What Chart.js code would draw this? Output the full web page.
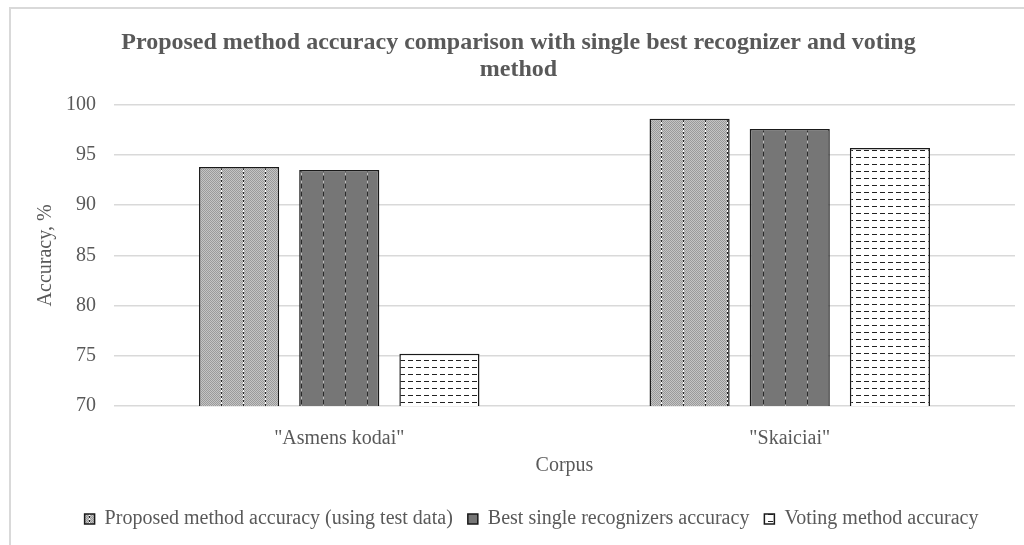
<!DOCTYPE html>
<html>
<head>
<meta charset="utf-8">
<script src="https://cdn.jsdelivr.net/npm/chart.js@4"></script>
<style>
  html, body { margin: 0; padding: 0; background: #fff; }
  #wrap { position: relative; width: 1024px; height: 545px; }
  #frame { position: absolute; left: 9px; top: 7px; right: -2px; bottom: -2px;
           border-left: 2px solid #d9d9d9; border-top: 2px solid #d9d9d9; }
  canvas { position: absolute; left: 0; top: 0; }
</style>
</head>
<body>
<div id="wrap">
  <div id="frame"></div>
  <canvas id="myChart" width="1024" height="545"></canvas>
</div>
<script>
// data
const corpora = ['"Asmens kodai"', '"Skaiciai"'];
const proposedAcc = [93.8, 98.6];
const bestSingleAcc = [93.5, 97.6];
const votingAcc = [75.2, 95.7];
const yTicks = [70, 75, 80, 85, 90, 95, 100];

const seriesNames = [
  'Proposed method accuracy (using test data)',
  'Best single recognizers accuracy',
  'Voting method accuracy'
];

// pattern helpers, fills are anchored to the canvas origin
function makePattern(w, h, paint) {
  const c = document.createElement('canvas');
  c.width = w; c.height = h;
  paint(c.getContext('2d'));
  return document.getElementById('myChart').getContext('2d').createPattern(c, 'repeat');
}

// light gray stipple with dotted vertical lines
const patProposed = makePattern(22, 4, g => {
  g.fillStyle = '#c4c4c4';
  g.fillRect(0, 0, 22, 4);
  for (let y = 0; y < 4; y++) {
    for (let x = 0; x < 22; x++) {
      if ((x + y) % 2 === 0) { g.fillStyle = '#9a9a9a'; g.fillRect(x, y, 1, 1); }
    }
  }
  g.fillStyle = '#222'; g.fillRect(1, 0, 1, 2);
  g.fillStyle = '#fff'; g.fillRect(1, 2, 1, 2);
});

// dark gray with dash-dot vertical lines
const patBest = makePattern(22, 8, g => {
  g.fillStyle = '#767676';
  g.fillRect(0, 0, 22, 8);
  g.fillStyle = '#2a2a2a'; g.fillRect(15, 0, 1, 4);
  g.fillStyle = '#bdbdbd'; g.fillRect(15, 5, 1, 2);
});

// white with horizontal dashed lines
const patVoting = makePattern(8, 7, g => {
  g.fillStyle = '#ffffff';
  g.fillRect(0, 0, 8, 7);
  g.fillStyle = '#222';
  g.fillRect(0, 3, 5, 1);
});

const serif = "'Liberation Serif', 'DejaVu Serif', serif";
const textGray = '#595959';

const data = {
  labels: corpora,
  datasets: [
    { label: seriesNames[0], data: proposedAcc, backgroundColor: patProposed },
    { label: seriesNames[1], data: bestSingleAcc, backgroundColor: patBest },
    { label: seriesNames[2], data: votingAcc, backgroundColor: patVoting }
  ].map(d => Object.assign(d, {
    borderColor: '#1a1a1a',
    borderWidth: 1.5,
    borderSkipped: 'bottom',
    categoryPercentage: 0.667,
    barPercentage: 0.8
  }))
};

// nudge the legend a little to the right, like the original
const legendShift = {
  id: 'legendShift',
  afterLayout(chart) {
    chart.legend.left += 13;
    chart.legend.right += 13;
  }
};

const config = {
  type: 'bar',
  data: data,
  options: {
    responsive: false,
    animation: false,
    devicePixelRatio: 1,
    layout: { padding: { left: 22, right: 9, top: 30, bottom: 6 } },
    scales: {
      x: {
        afterFit(scale) { scale.height = 88; },
        grid: { display: false, drawTicks: false },
        border: { display: false },
        ticks: { color: textGray, font: { family: serif, size: 20 }, padding: 21 },
        title: { display: true, text: 'Corpus', color: textGray,
                 font: { family: serif, size: 20 }, padding: { top: 0, bottom: 16 } }
      },
      y: {
        min: 70,
        max: 100,
        afterBuildTicks(scale) { scale.ticks = yTicks.map(v => ({ value: v })); },
        afterFit(scale) { scale.width = 92; },
        grid: { color: '#d9d9d9', lineWidth: 1.5, drawTicks: false },
        border: { display: false },
        ticks: { color: textGray, font: { family: serif, size: 20 }, padding: 18 },
        title: { display: true, text: 'Accuracy, %', color: textGray,
                 font: { family: serif, size: 20 }, padding: { top: 12, bottom: 0 } }
      }
    },
    plugins: {
      title: {
        display: true,
        text: ['Proposed method accuracy comparison with single best recognizer and voting', 'method'],
        color: textGray,
        font: { family: serif, size: 24, weight: 'bold', lineHeight: 1.1 },
        padding: { top: 0, bottom: 22 }
      },
      legend: {
        position: 'bottom',
        labels: {
          color: textGray,
          font: { family: serif, size: 20 },
          boxWidth: 10,
          boxHeight: 10,
          padding: 15
        }
      },
      tooltip: { enabled: false }
    }
  },
  plugins: [legendShift]
};

const myChart = new Chart(document.getElementById('myChart'), config);
</script>
</body>
</html>
